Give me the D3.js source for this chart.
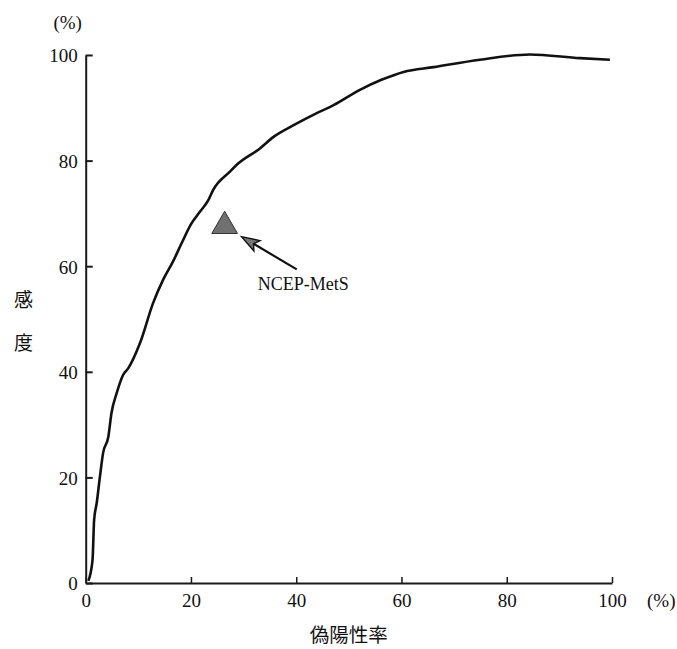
<!DOCTYPE html>
<html>
<head>
<meta charset="utf-8">
<script src="https://cdn.jsdelivr.net/npm/d3@7"></script>
<style>
  html, body { margin: 0; padding: 0; background: #fff; }
  svg { display: block; }
  .tick text { font-family: "Liberation Serif", "DejaVu Serif", serif; font-size: 19px; fill: #111; }
</style>
</head>
<body>
<svg id="chart" width="677" height="649"></svg>
<script>
// ---- Data ----
const falsePositiveRate = [0.5, 1.3, 1.6, 2.1, 2.7, 3.3, 4.3, 4.9, 5.9, 7.1, 8.1, 10.3, 12.8, 14.7, 16.6, 18.2, 20.1, 21.7, 23.3, 24.2, 27.4, 28.7, 33.1, 35.7, 39.5, 43.9, 47.1, 52.1, 56.2, 60.4, 66.1, 74.9, 84.4, 93.9, 99.6];
const sensitivity      = [0.4, 4.4, 11.9, 15.2, 20.1, 24.6, 27.7, 32.2, 36.0, 39.4, 40.7, 45.4, 53.0, 57.4, 60.9, 64.3, 68.1, 70.3, 72.5, 74.4, 77.9, 79.2, 82.3, 84.5, 86.7, 89.0, 90.5, 93.4, 95.3, 96.8, 97.7, 99.1, 100.1, 99.4, 99.1];
const xTicks = [0, 20, 40, 60, 80, 100];
const yTicks = [0, 20, 40, 60, 80, 100];
const metsPoint = [{ name: "NCEP-MetS", x: 26.4, y: 67.6 }];
// annotation arrow: tail, tip and label anchor, in data units
const arrowTail = [40.1, 59.4];
const arrowTip = [29.6, 65.6];
const labelPos = [32.7, 55.4];
const xLabel = "偽陽性率";
const yLabel = ["感", "度"];
const unitLabel = "(%)";

// ---- Drawing ----
const svg = d3.select("#chart");
const x = d3.scaleLinear().domain([0, 100]).range([85.7, 612]);
const y = d3.scaleLinear().domain([0, 100]).range([583, 55]);

const axisColor = "#1a1a1a";

// X axis
const gx = svg.append("g")
  .attr("transform", `translate(0,${y(0)})`)
  .call(d3.axisBottom(x).tickValues(xTicks).tickSizeInner(-6).tickSizeOuter(0).tickPadding(11).tickFormat(d3.format("d")));
gx.select(".domain").attr("stroke", axisColor).attr("stroke-width", 2);
gx.selectAll(".tick line").attr("stroke", axisColor).attr("stroke-width", 1.5);

// Y axis
const gy = svg.append("g")
  .attr("transform", `translate(${x(0)},0)`)
  .call(d3.axisLeft(y).tickValues(yTicks).tickSizeInner(-7).tickSizeOuter(0).tickPadding(8).tickFormat(d3.format("d")));
gy.select(".domain").attr("stroke", axisColor).attr("stroke-width", 2);
gy.selectAll(".tick line").attr("stroke", axisColor).attr("stroke-width", 2);
gy.selectAll(".tick text").attr("dy", "0.36em");

// Unit labels
svg.append("text")
  .attr("x", x(100) + 35).attr("y", y(0) + 11).attr("dy", "0.71em")
  .attr("font-family", "Liberation Serif, serif").attr("font-size", 19).attr("fill", "#111")
  .text(unitLabel);
svg.append("text")
  .attr("x", x(0) - 18).attr("y", y(100) - 26)
  .attr("text-anchor", "middle")
  .attr("font-family", "Liberation Serif, serif").attr("font-size", 19).attr("fill", "#111")
  .text(unitLabel);

// Axis titles
svg.append("text")
  .attr("x", (x(0) + x(100)) / 2).attr("y", 642)
  .attr("text-anchor", "middle")
  .attr("font-family", "Noto Sans CJK JP, sans-serif").attr("font-size", 19.5).attr("fill", "#111")
  .text(xLabel);
svg.selectAll("text.ylab").data(yLabel).join("text")
  .attr("class", "ylab")
  .attr("x", 23.5).attr("y", (d, i) => 307 + i * 43)
  .attr("text-anchor", "middle")
  .attr("font-family", "Noto Sans CJK JP, sans-serif").attr("font-size", 19).attr("fill", "#111")
  .text(d => d);

// ROC curve
const pts = falsePositiveRate.map((v, i) => [v, sensitivity[i]]);
svg.append("path")
  .datum(pts)
  .attr("fill", "none")
  .attr("stroke", "#111")
  .attr("stroke-width", 2.6)
  .attr("stroke-linejoin", "round")
  .attr("d", d3.line().x(d => x(d[0])).y(d => y(d[1])).curve(d3.curveMonotoneX));

// MetS triangle
svg.selectAll("path.mets").data(metsPoint).join("path")
  .attr("class", "mets")
  .attr("transform", d => `translate(${x(d.x)},${y(d.y)})`)
  .attr("d", d3.symbol().type(d3.symbolTriangle).size(287))
  .attr("fill", "#707070")
  .attr("stroke", "#333")
  .attr("stroke-width", 1);

// Arrow
const tx = x(arrowTail[0]), ty = y(arrowTail[1]);
const hx = x(arrowTip[0]), hy = y(arrowTip[1]);
const ang = Math.atan2(hy - ty, hx - tx);
const headLen = 18, headHalf = 6;
const bx = hx - headLen * Math.cos(ang), by = hy - headLen * Math.sin(ang);
svg.append("line")
  .attr("x1", tx).attr("y1", ty)
  .attr("x2", bx + 4 * Math.cos(ang)).attr("y2", by + 4 * Math.sin(ang))
  .attr("stroke", "#111").attr("stroke-width", 2.2);
svg.append("path")
  .attr("d", d3.line()([
    [hx, hy],
    [bx - headHalf * Math.sin(ang), by + headHalf * Math.cos(ang)],
    [bx + 4 * Math.cos(ang), by + 4 * Math.sin(ang)],
    [bx + headHalf * Math.sin(ang), by - headHalf * Math.cos(ang)]
  ]) + "Z")
  .attr("fill", "#777").attr("stroke", "#111").attr("stroke-width", 1.4).attr("stroke-linejoin", "miter");

svg.append("text")
  .attr("x", x(labelPos[0])).attr("y", y(labelPos[1]))
  .attr("font-family", "Liberation Serif, serif").attr("font-size", 18).attr("fill", "#111")
  .text(metsPoint[0].name);
</script>
</body>
</html>
